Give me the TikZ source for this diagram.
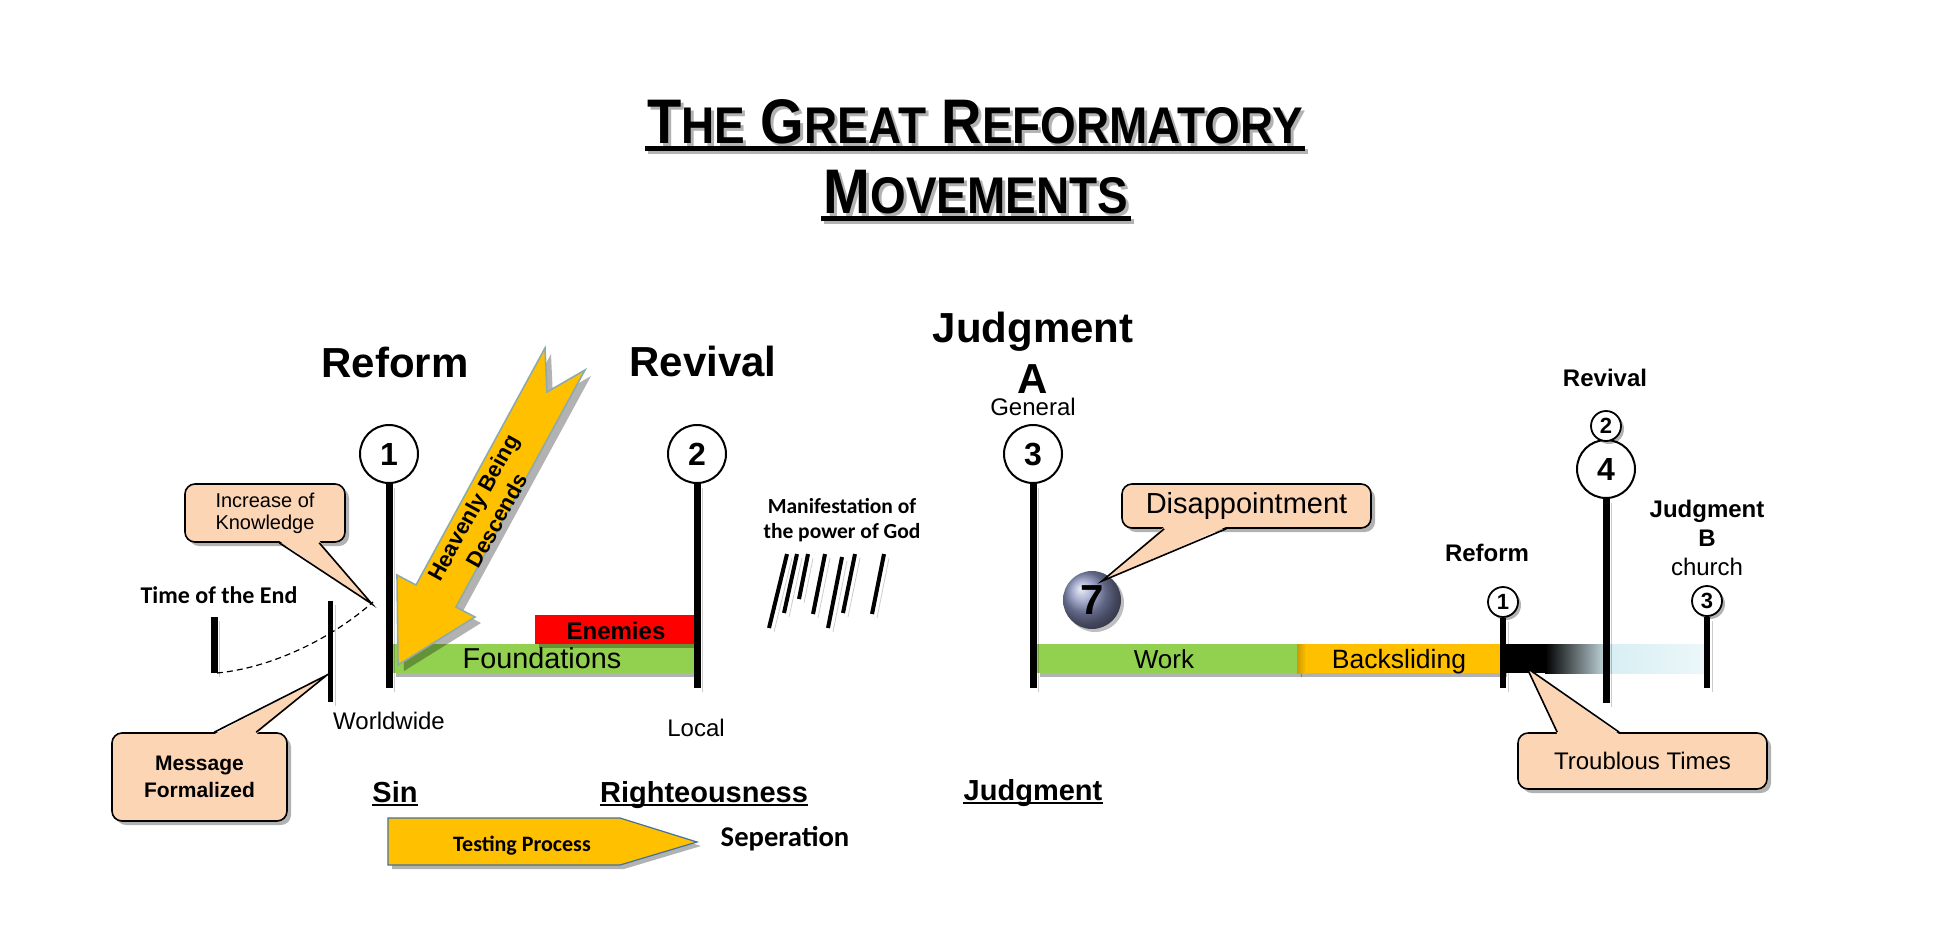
\documentclass[tikz,border=0pt]{standalone}
\usepackage{fontspec}
\setmainfont{Liberation Sans}
\newfontfamily\calib{Carlito}
\usetikzlibrary{shadows,calc,backgrounds}
\definecolor{peach}{HTML}{FCD5B5}
\definecolor{grn}{HTML}{92D050}
\definecolor{gold}{HTML}{FFC000}
\definecolor{tcyan}{HTML}{D8EFF4}
\definecolor{tcyanb}{HTML}{EDF7F9}
\definecolor{arrowedge}{HTML}{8FAAAD}
\definecolor{tpedge}{HTML}{41719C}
\definecolor{ballc}{HTML}{8A92BE}
\newcommand\tsm[1]{{\fontsize{25.8}{30}\selectfont #1}}
\newcommand\titleone{\scalebox{0.89}[1]{T\tsm{HE} G\tsm{REAT} R\tsm{EFORMATORY}}}
\newcommand\titletwo{\scalebox{0.89}[1]{M\tsm{OVEMENTS}}}
\newcommand\titlefont{\bfseries\fontsize{31.5}{36}\selectfont}
\tikzset{
 shd/.style={drop shadow={shadow xshift=2pt,shadow yshift=-2pt,opacity=.3,fill=black}},
 vbar/.style={line width=3.5pt, preaction={draw=black, opacity=.2, transform canvas={shift={(2.5pt,-2pt)}}}},
 rain/.style={line width=2pt, preaction={draw=black, opacity=.2, transform canvas={shift={(2.5pt,-2pt)}}}},
 numc/.style={circle, draw, line width=1pt, fill=white, minimum size=29pt, inner sep=0pt, font=\bfseries\fontsize{16}{18}\selectfont},
 snumc/.style={circle, draw, line width=0.9pt, fill=white, minimum size=15pt, inner sep=0pt, font=\bfseries\fontsize{11}{12}\selectfont, drop shadow={shadow xshift=1.5pt,shadow yshift=-1.5pt,opacity=.3,fill=black}},
 lbl/.style={inner sep=0pt, anchor=base},
 call/.style={rectangle, rounded corners=5pt, draw, line width=0.8pt, fill=peach, inner sep=0pt, align=center, shd},
 ptr/.style={fill=peach},
 ptredge/.style={draw, line width=0.8pt},
 ptrshd/.style={fill=black, opacity=.3, transform canvas={shift={(2pt,-2pt)}}},
 big/.style={lbl, font=\bfseries\fontsize{21}{24}\selectfont},
 med/.style={lbl, font=\bfseries\fontsize{12}{14}\selectfont},
 reg/.style={lbl, font=\fontsize{12}{14}\selectfont},
 cbold/.style={lbl, font=\calib\bfseries\fontsize{12}{14}\selectfont},
 ul/.style={lbl, font=\bfseries\fontsize{14.5}{17}\selectfont},
}
\begin{document}
\begin{tikzpicture}[x=0.5pt,y=-0.5pt]
\useasboundingbox[fill=white] (0,0) rectangle (1944,938);

% ---------- title ----------
\node[lbl, font=\titlefont, text=black!30] (t1s) at (978,146) {\titleone};
\fill[black!30] ($(t1s.base west)+(-2,3)$) rectangle ($(t1s.base east)+(2,8)$);
\node[lbl, font=\titlefont] (t1) at (975,143) {\titleone};
\fill ($(t1.base west)+(-2,3)$) rectangle ($(t1.base east)+(2,8)$);
\node[lbl, font=\titlefont, text=black!30] (t2s) at (979,216) {\titletwo};
\fill[black!30] ($(t2s.base west)+(-2,3)$) rectangle ($(t2s.base east)+(2,8)$);
\node[lbl, font=\titlefont] (t2) at (976,213) {\titletwo};
\fill ($(t2.base west)+(-2,3)$) rectangle ($(t2.base east)+(2,8)$);

% ---------- headings ----------
\node[big] (hreform) at (395,377) {Reform};
\node[big] (hrevival) at (703,376) {Revival};
\node[big] (hjudg) at (1033,342) {Judgment};
\node[big] (hA) at (1033,393) {A};
\node[reg] (hgen) at (1033,415) {General};
\node[cbold] (tend) at (219,603) {Time of the End};
\node[reg] (world) at (389,729) {Worldwide};
\node[reg] (local) at (696,736) {Local};
\node[align=center, inner sep=0pt, font=\calib\bfseries\fontsize{10.75}{12.5}\selectfont] (manif) at (842,520) {Manifestation of\\the power of God};
\node[med] (sreform) at (1487,561) {Reform};
\node[med] (srevival) at (1605,386) {Revival};
\node[med] (jB1) at (1707,517) {Judgment};
\node[med] (jB2) at (1707,546) {B};
\node[reg] (jB3) at (1707,575) {church};

% ---------- time of the end ----------
\coordinate (e0t) at (214,617);
\coordinate (e0b) at (214,673);
\draw[vbar] (e0t) -- (e0b);
\coordinate (ewt) at (330,601);
\coordinate (ewb) at (330,702);
\draw[vbar, line width=2.5pt] (ewt) -- (ewb);
\coordinate (dashend) at (373,602);
\draw[dashed, dash pattern=on 3pt off 2pt, line width=0.6pt] (217,673) .. controls (270,668) and (330,640) .. (dashend);

% ---------- horizontal bars ----------
\fill[grn, shd] (392,644) rectangle (694,673);
\fill[red, shd] (535,615) rectangle (694,643.5);
\node[lbl, font=\fontsize{14.4}{16}\selectfont] (found) at (542,668) {Foundations};
\node[lbl, font=\bfseries\fontsize{12}{14}\selectfont] (enem) at (616,639) {Enemies};

\fill[grn, shd] (1036,644) rectangle (1297.5,673);
\fill[gold, shd] (1297,644) rectangle (1503,673);
\shade[left color=gold!80!black, right color=gold] (1297,644) rectangle (1306,673);
\fill[black] (1503,644) rectangle (1545.5,673);
\shade[left color=black, right color=tcyan] (1545,644) rectangle (1612.5,673);
\shade[left color=tcyan, right color=tcyanb] (1612,644) rectangle (1707,673);
\node[lbl, font=\fontsize{13}{15}\selectfont] (work) at (1164,668) {Work};
\node[lbl, font=\fontsize{13.25}{15}\selectfont] (back) at (1399,668) {Backsliding};

% ---------- pillars ----------
\node[numc] (c1) at (389,454) {1};
\coordinate (e1) at (389,688);
\draw[vbar] (c1.south) -- (e1);
\node[numc] (c2) at (697,454) {2};
\coordinate (e2) at (697,688);
\draw[vbar] (c2.south) -- (e2);
\node[numc] (c3) at (1033,454) {3};
\coordinate (e3) at (1033,688);
\draw[vbar] (c3.south) -- (e3);
\node[snumc] (r1) at (1503,602) {1};
\coordinate (er1) at (1503,688);
\draw[vbar, line width=3pt] (r1.south) -- (er1);
\node[numc] (c4) at (1606,469) {4};
\node[snumc] (c4b) at (1606,426) {2};
\coordinate (e4) at (1606,703);
\draw[vbar] (c4.south) -- (e4);
\node[snumc] (j3) at (1707,601) {3};
\coordinate (ej3) at (1707,688);
\draw[vbar, line width=3pt] (j3.south) -- (ej3);

% ---------- rain ----------
\draw[rain] (787,554) -- (769,628);
\draw[rain] (797,554) -- (784,613);
\draw[rain] (808,554) -- (799,599);
\draw[rain] (825,554) -- (813,614);
\draw[rain] (842,557) -- (828,628);
\draw[rain] (855,554) -- (843,613);
\draw[rain] (884,554) -- (872,614);

% ---------- heavenly being arrow ----------
\draw[fill=gold, draw=arrowedge, line width=0.8pt, drop shadow={shadow xshift=3pt,shadow yshift=-3pt,opacity=.3,fill=black}]
 (398,665) -- (397,575) -- (416,585) -- (545,348) -- (547,392) -- (585,370) -- (456,607) -- (475,617) -- cycle;
\node[rotate=61, align=center, inner sep=0pt, font=\bfseries\fontsize{11}{13.5}\selectfont] (heav) at (485,514) {Heavenly Being\\Descends};

% ---------- ball 7 ----------
\node[circle, minimum size=29pt, inner sep=0pt, shading=ball, ball color=ballc, drop shadow={shadow xshift=1.5pt,shadow yshift=-1.5pt,opacity=.25,fill=black}, font=\bfseries\fontsize{21}{24}\selectfont] (b7) at (1092,600) {7};

% ---------- callouts ----------
\node[call, minimum width=80pt, minimum height=29pt, font=\fontsize{10}{11}\selectfont] (inc) at (265,513) {Increase of\\Knowledge};
\coordinate (inctip) at (372,604);
\begin{scope}[on background layer]
\fill[ptrshd] ($(inc.south west)+(95,-2)$) -- (inctip) -- ($(inc.south west)+(135,-2)$) -- cycle;
\end{scope}
\fill[ptr] ($(inc.south west)+(95,-2)$) -- (inctip) -- ($(inc.south west)+(135,-2)$) -- cycle;
\draw[ptredge] ($(inc.south west)+(95,0)$) -- (inctip) -- ($(inc.south west)+(135,0)$);

\node[call, minimum width=87.5pt, minimum height=44pt, font=\bfseries\fontsize{10.5}{13.5}\selectfont] (msg) at (199.5,777) {Message\\Formalized};
\coordinate (msgtip) at (327,675);
\begin{scope}[on background layer]
\fill[ptrshd] ($(msg.north west)+(103,2)$) -- (msgtip) -- ($(msg.north west)+(145,2)$) -- cycle;
\end{scope}
\fill[ptr] ($(msg.north west)+(103,2)$) -- (msgtip) -- ($(msg.north west)+(145,2)$) -- cycle;
\draw[ptredge] ($(msg.north west)+(103,0)$) -- (msgtip) -- ($(msg.north west)+(145,0)$);

\node[call, minimum width=124.5pt, minimum height=22pt, font=\fontsize{14.5}{16}\selectfont] (dis) at (1246.5,506) {Disappointment};
\coordinate (distip) at (1102,581);
\begin{scope}[on background layer]
\fill[ptrshd] ($(dis.south west)+(43,-2)$) -- (distip) -- ($(dis.south west)+(105,-2)$) -- cycle;
\end{scope}
\fill[ptr] ($(dis.south west)+(43,-2)$) -- (distip) -- ($(dis.south west)+(105,-2)$) -- cycle;
\draw[ptredge] ($(dis.south west)+(43,0)$) -- (distip) -- ($(dis.south west)+(105,0)$);

\node[call, minimum width=124.5pt, minimum height=28pt, font=\fontsize{12}{14}\selectfont] (trb) at (1642.5,761) {Troublous Times};
\coordinate (trbtip) at (1527,668);
\begin{scope}[on background layer]
\fill[ptrshd] ($(trb.north west)+(40,2)$) -- (trbtip) -- ($(trb.north west)+(102,2)$) -- cycle;
\end{scope}
\fill[ptr] ($(trb.north west)+(40,2)$) -- (trbtip) -- ($(trb.north west)+(102,2)$) -- cycle;
\draw[ptredge] ($(trb.north west)+(40,0)$) -- (trbtip) -- ($(trb.north west)+(102,0)$);

% ---------- bottom ----------
\node[ul] (sin) at (395,802) {Sin};
\draw[line width=1.2pt] ([yshift=-1.6pt]sin.base west) -- ([yshift=-1.6pt]sin.base east);
\node[ul] (right) at (704,802) {Righteousness};
\draw[line width=1.2pt] ([yshift=-1.6pt]right.base west) -- ([yshift=-1.6pt]right.base east);
\node[ul] (judgb) at (1033,800) {Judgment};
\draw[line width=1.2pt] ([yshift=-1.6pt]judgb.base west) -- ([yshift=-1.6pt]judgb.base east);

\draw[fill=gold, draw=tpedge, line width=0.6pt, shd] (388,818) -- (620,818) -- (697,842) -- (620,865) -- (388,865) -- cycle;
\node[lbl, font=\calib\bfseries\fontsize{11}{13}\selectfont] (test) at (522,851) {Testing Process};
\node[lbl, font=\calib\bfseries\fontsize{14.3}{16}\selectfont] (sep) at (785,846) {Seperation};
\end{tikzpicture}
\end{document}
